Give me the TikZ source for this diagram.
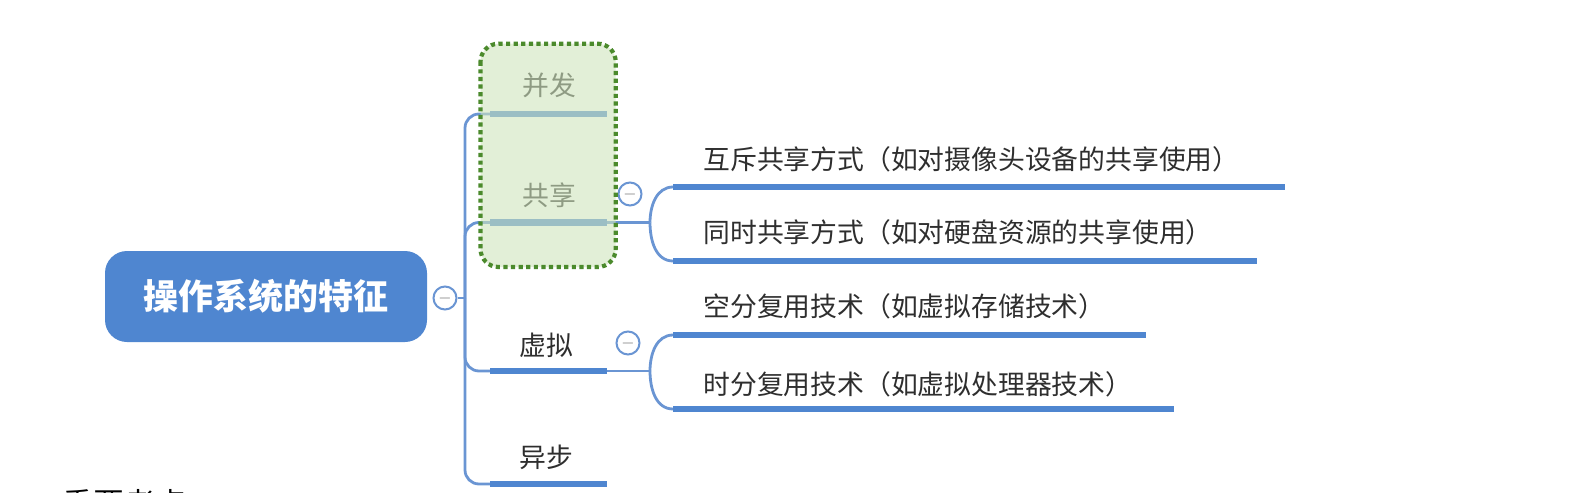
\documentclass[tikz,border=0pt]{standalone}
\usepackage{fontspec}
\newfontfamily\cjk{Noto Sans CJK SC}
\usetikzlibrary{positioning}
\definecolor{mapblue}{HTML}{4F86D0}
\definecolor{linkblue}{HTML}{6A95D3}
\definecolor{boxgreen}{HTML}{4B8A2C}
\definecolor{boxfill}{HTML}{CFE4BC}
\tikzset{
  rootbox/.style={fill=mapblue, rounded corners=11pt, minimum width=161pt, minimum height=45.5pt,
    text=white, font=\cjk\bfseries\fontsize{17.5}{20}\selectfont},
  lbl/.style={text=black!82, font=\cjk\fontsize{13.4}{16}\selectfont, inner sep=0pt},
  bar/.style={mapblue, line width=3.4pt},
  link/.style={linkblue, line width=1.4pt},
  fold/.style={circle, draw=linkblue, line width=1pt, fill=white, minimum size=11.5pt,
    inner sep=0pt, font=\footnotesize, text=black!50},
  hlbox/.style={draw=boxgreen, fill=boxfill, fill opacity=0.6, line width=2.1pt,
    dash pattern=on 2.1pt off 1.7pt, rounded corners=9pt}
}

\begin{document}
\begin{tikzpicture}[x=0.5pt, y=-0.5pt]
    \useasboundingbox (0,0) rectangle (1593,492);

    % Root
    \node[rootbox] (root) at (266,296.5) {操作系统的特征};
    \node[fold] (rootfold) at (445,298) {$-$};
    \coordinate (joint) at (465,298);
    \draw[link] (rootfold.east) -- (joint);

    % Branch bars
    \coordinate (bfL) at (490,114);   \coordinate (bfR) at (607,114);
    \coordinate (gxL) at (490,222.5); \coordinate (gxR) at (607,222.5);
    \coordinate (xnL) at (490,371);   \coordinate (xnR) at (607,371);
    \coordinate (ybL) at (490,484);   \coordinate (ybR) at (607,484);
    \foreach \b in {bf,gx,xn,yb}
        \draw[link, rounded corners=7pt] (joint) |- (\b L);
    \foreach \b in {bf,gx,xn,yb}
        \draw[bar] (\b L) -- (\b R);

    \node[lbl] (bf) at (549,85) {并发};
    \node[lbl] (gx) at (549,195) {共享};
    \node[lbl] (xn) at (546,345.5) {虚拟};
    \node[lbl] (yb) at (546,457) {异步};

    % Sharing modes
    \node[fold] (gxfold) at (630,194) {$-$};
    \coordinate (gxF) at (650,222.5);
    \coordinate (hcL) at (673,187) ; \coordinate (hcR) at (1285,187);
    \coordinate (tsL) at (673,261) ; \coordinate (tsR) at (1257,261);
    \draw[link] (gxR) -- (gxF);
    \draw[link] (gxF) to[out=90, in=180] (hcL);
    \draw[link] (gxF) to[out=-90, in=180] (tsL);
    \draw[bar] (hcL) -- (hcR);
    \draw[bar] (tsL) -- (tsR);
    \node[lbl, anchor=west] (hc) at (703,159.5) {互斥共享方式（如对摄像头设备的共享使用）};
    \node[lbl, anchor=west] (ts) at (703,232.6) {同时共享方式（如对硬盘资源的共享使用）};

    % Virtual techniques
    \node[fold] (xnfold) at (628,343) {$-$};
    \coordinate (xnF) at (650,371);
    \coordinate (kfL) at (673,335) ; \coordinate (kfR) at (1146,335);
    \coordinate (sfL) at (673,409) ; \coordinate (sfR) at (1174,409);
    \draw[link] (xnR) -- (xnF);
    \draw[link] (xnF) to[out=90, in=180] (kfL);
    \draw[link] (xnF) to[out=-90, in=180] (sfL);
    \draw[bar] (kfL) -- (kfR);
    \draw[bar] (sfL) -- (sfR);
    \node[lbl, anchor=west] (kf) at (703,306.8) {空分复用技术（如虚拟存储技术）};
    \node[lbl, anchor=west] (sf) at (703,384) {时分复用技术（如虚拟处理器技术）};

    % Highlight
    \draw[hlbox] (480.5,43.7) rectangle (615.7,267);

    % Cut-off heading below
    \node[anchor=north west, inner sep=0pt, font=\cjk\fontsize{15.5}{18}\selectfont] (note) at (62,489) {重要考点};
\end{tikzpicture}
\end{document}
